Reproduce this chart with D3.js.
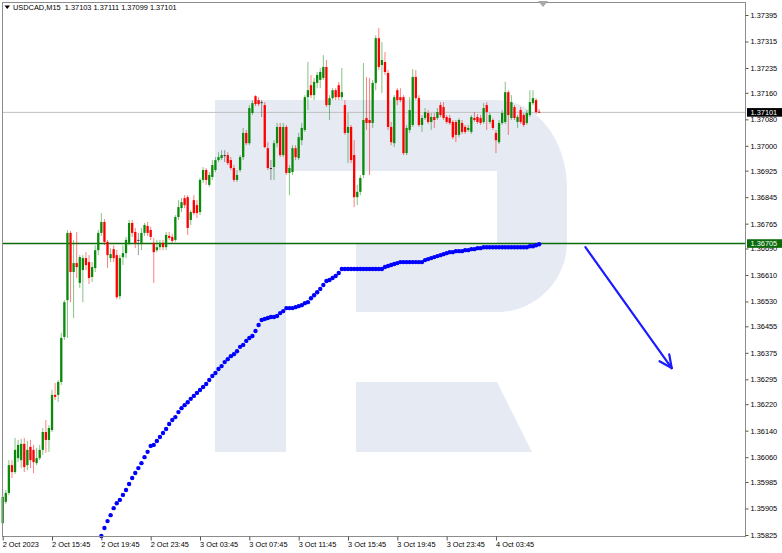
<!DOCTYPE html>
<html><head><meta charset="utf-8">
<script src="https://cdn.jsdelivr.net/npm/d3@7"></script>
<style>html,body{margin:0;padding:0;background:#fff;}svg{display:block;font-family:"Liberation Sans",Arial,sans-serif;}</style>
</head><body><svg id="c" width="782" height="553"></svg>
<script>
// ---------- data ----------
const headerText = "USDCAD,M15  1.37103 1.37111 1.37099 1.37101";
const timeTickBars = [0,16,32,48,64,80,96,112,128,144,160];
const timeLabels = ["2 Oct 2023","2 Oct 15:45","2 Oct 19:45","2 Oct 23:45","3 Oct 03:45","3 Oct 07:45","3 Oct 11:45","3 Oct 15:45","3 Oct 19:45","3 Oct 23:45","4 Oct 03:45"];
const priceTicks = [1.37395,1.37315,1.37235,1.37160,1.37080,1.37000,1.36925,1.36845,1.36765,1.36690,1.36610,1.36530,1.36455,1.36375,1.36295,1.36220,1.36140,1.36060,1.35985,1.35905,1.35825];
const openP = [1.35861,1.35925,1.35952,1.36036,1.36015,1.36057,1.36051,1.36100,1.36036,1.36091,1.36082,1.36042,1.36057,1.36082,1.36136,1.36112,1.36142,1.36248,1.36248,1.36287,
1.36423,1.36534,1.36737,1.36619,1.36646,1.36586,1.36625,1.36661,1.36649,1.36604,1.36631,1.36685,1.36737,1.36770,1.36710,1.36661,1.36688,1.36670,1.36546,1.36664,
1.36676,1.36707,1.36767,1.36740,1.36716,1.36707,1.36737,1.36758,1.36746,1.36707,1.36685,1.36694,1.36707,1.36694,1.36728,1.36725,1.36716,1.36785,1.36812,1.36842,
1.36845,1.36776,1.36836,1.36821,1.36800,1.36897,1.36927,1.36882,1.36906,1.36927,1.36957,1.36963,1.36972,1.36972,1.36957,1.36933,1.36897,1.36927,1.36966,1.37039,
1.37008,1.37099,1.37150,1.37138,1.37132,1.37123,1.36993,1.36933,1.36936,1.37008,1.37057,1.36972,1.37057,1.36918,1.36921,1.36993,1.36963,1.37017,1.37048,1.37147,
1.37183,1.37153,1.37190,1.37199,1.37205,1.37238,1.37123,1.37144,1.37168,1.37183,1.37147,1.37123,1.37039,1.37057,1.36972,1.36845,1.36861,1.36912,1.37084,1.37078,
1.37069,1.37190,1.37325,1.37244,1.37253,1.37220,1.37057,1.37008,1.37168,1.37147,1.37147,1.36978,1.37048,1.37063,1.37208,1.37144,1.37063,1.37084,1.37099,1.37072,
1.37087,1.37084,1.37123,1.37117,1.37087,1.37084,1.37072,1.37072,1.37033,1.37069,1.37057,1.37048,1.37042,1.37084,1.37087,1.37084,1.37072,1.37123,1.37072,1.37078,
1.37039,1.37011,1.37069,1.37072,1.37162,1.37084,1.37117,1.37072,1.37108,1.37093,1.37069,1.37093,1.37129,1.37138,1.37103];
const highP = [1.35961,1.35961,1.36051,1.36051,1.36118,1.36112,1.36115,1.36118,1.36109,1.36112,1.36097,1.36088,1.36097,1.36148,1.36172,1.36157,1.36263,1.36284,1.36293,1.36435,
1.36534,1.36746,1.36743,1.36716,1.36740,1.36670,1.36670,1.36679,1.36670,1.36649,1.36700,1.36746,1.36797,1.36779,1.36716,1.36691,1.36700,1.36685,1.36670,1.36700,
1.36725,1.36776,1.36776,1.36752,1.36737,1.36752,1.36767,1.36770,1.36755,1.36722,1.36716,1.36716,1.36716,1.36740,1.36740,1.36734,1.36791,1.36836,1.36842,1.36851,
1.36851,1.36806,1.36851,1.36836,1.36903,1.36936,1.36933,1.36921,1.36957,1.36966,1.36981,1.36987,1.36987,1.36981,1.36966,1.36942,1.36927,1.36972,1.37054,1.37048,
1.37123,1.37138,1.37153,1.37147,1.37138,1.37132,1.37011,1.36957,1.37017,1.37069,1.37069,1.37069,1.37063,1.36942,1.37002,1.37002,1.37039,1.37069,1.37153,1.37253,
1.37214,1.37205,1.37223,1.37235,1.37274,1.37259,1.37153,1.37174,1.37174,1.37193,1.37235,1.37138,1.37099,1.37063,1.37017,1.36882,1.36912,1.37250,1.37208,1.37205,
1.37199,1.37334,1.37356,1.37313,1.37283,1.37229,1.37072,1.37153,1.37174,1.37174,1.37153,1.37063,1.37147,1.37232,1.37229,1.37153,1.37093,1.37114,1.37108,1.37099,
1.37099,1.37114,1.37132,1.37132,1.37093,1.37093,1.37078,1.37078,1.37084,1.37078,1.37063,1.37063,1.37093,1.37102,1.37096,1.37093,1.37129,1.37132,1.37099,1.37084,
1.37048,1.37078,1.37108,1.37193,1.37168,1.37153,1.37123,1.37093,1.37117,1.37099,1.37108,1.37168,1.37168,1.37144,1.37111];
const lowP = [1.35855,1.35919,1.35946,1.35997,1.36009,1.36045,1.36027,1.36015,1.36021,1.36027,1.36012,1.36036,1.36051,1.36067,1.36073,1.36076,1.36136,1.36233,1.36227,1.36278,
1.36414,1.36420,1.36528,1.36480,1.36601,1.36571,1.36528,1.36625,1.36583,1.36589,1.36619,1.36670,1.36728,1.36700,1.36631,1.36649,1.36649,1.36537,1.36537,1.36640,
1.36661,1.36700,1.36725,1.36691,1.36670,1.36685,1.36728,1.36728,1.36716,1.36586,1.36679,1.36685,1.36685,1.36685,1.36716,1.36707,1.36710,1.36776,1.36800,1.36812,
1.36731,1.36761,1.36791,1.36782,1.36791,1.36888,1.36882,1.36876,1.36897,1.36921,1.36951,1.36957,1.36951,1.36942,1.36927,1.36891,1.36891,1.36921,1.36957,1.37002,
1.37002,1.37093,1.37120,1.37120,1.37087,1.36993,1.36927,1.36897,1.36897,1.36996,1.36966,1.36966,1.36912,1.36851,1.36912,1.36957,1.36957,1.37002,1.37042,1.37108,
1.37144,1.37138,1.37174,1.37174,1.37199,1.37117,1.37078,1.37138,1.37138,1.37138,1.37138,1.37033,1.36948,1.36948,1.36815,1.36821,1.36851,1.36903,1.37048,1.36912,
1.37054,1.37168,1.37229,1.37159,1.37214,1.37048,1.37002,1.36996,1.37123,1.37132,1.36972,1.36972,1.37039,1.37057,1.37138,1.37057,1.37042,1.37078,1.37066,1.37048,
1.37054,1.37078,1.37087,1.37078,1.37066,1.37063,1.37020,1.37011,1.37026,1.37036,1.37036,1.37042,1.37036,1.37072,1.37066,1.37063,1.37066,1.37048,1.37066,1.37048,
1.36978,1.37005,1.37063,1.37066,1.37033,1.37078,1.37078,1.37054,1.37066,1.37057,1.37063,1.37087,1.37123,1.37096,1.37099];
const closeP = [1.35940,1.35952,1.36036,1.36015,1.36082,1.36097,1.36100,1.36030,1.36082,1.36051,1.36045,1.36057,1.36082,1.36136,1.36112,1.36148,1.36248,1.36242,1.36287,1.36420,
1.36528,1.36737,1.36619,1.36646,1.36634,1.36664,1.36661,1.36640,1.36601,1.36634,1.36685,1.36737,1.36770,1.36710,1.36670,1.36673,1.36661,1.36543,1.36661,1.36676,
1.36716,1.36767,1.36737,1.36707,1.36716,1.36737,1.36761,1.36737,1.36725,1.36679,1.36694,1.36707,1.36694,1.36731,1.36722,1.36713,1.36785,1.36815,1.36830,1.36821,
1.36752,1.36800,1.36797,1.36797,1.36897,1.36927,1.36897,1.36912,1.36942,1.36957,1.36966,1.36972,1.36972,1.36948,1.36933,1.36897,1.36912,1.36966,1.37039,1.37008,
1.37114,1.37129,1.37126,1.37126,1.37132,1.36996,1.36933,1.36933,1.37008,1.37057,1.36972,1.37057,1.36918,1.36933,1.36993,1.36966,1.37026,1.37054,1.37147,1.37168,
1.37153,1.37193,1.37214,1.37223,1.37238,1.37123,1.37144,1.37168,1.37147,1.37147,1.37162,1.37039,1.37057,1.36957,1.36845,1.36861,1.36903,1.37078,1.37069,1.37069,
1.37190,1.37325,1.37238,1.37259,1.37223,1.37057,1.37011,1.37147,1.37138,1.37138,1.36978,1.37054,1.37108,1.37208,1.37144,1.37063,1.37084,1.37102,1.37072,1.37087,
1.37078,1.37102,1.37093,1.37084,1.37072,1.37069,1.37026,1.37033,1.37078,1.37042,1.37042,1.37054,1.37087,1.37078,1.37072,1.37069,1.37114,1.37102,1.37093,1.37054,
1.37017,1.37069,1.37099,1.37162,1.37093,1.37132,1.37084,1.37087,1.37072,1.37063,1.37099,1.37132,1.37144,1.37102,1.37101];
// blue dotted indicator, one value per bar starting at bar 32
const dotStartBar = 32;
const dotValues = [1.35822,1.35846,1.35867,1.35885,1.35906,1.35921,1.35931,1.35946,1.35961,1.35979,
1.35997,1.36012,1.36027,1.36042,1.36060,1.36076,1.36094,1.36097,1.36109,1.36121,
1.36133,1.36145,1.36160,1.36172,1.36181,1.36196,1.36208,1.36217,1.36226,1.36236,
1.36245,1.36254,1.36263,1.36272,1.36281,1.36293,1.36305,1.36314,1.36326,1.36335,
1.36347,1.36356,1.36365,1.36371,1.36380,1.36393,1.36399,1.36411,1.36420,1.36426,
1.36441,1.36459,1.36474,1.36477,1.36480,1.36483,1.36483,1.36486,1.36495,1.36501,
1.36510,1.36510,1.36510,1.36513,1.36516,1.36519,1.36525,1.36528,1.36540,1.36549,
1.36558,1.36568,1.36580,1.36592,1.36595,1.36601,1.36607,1.36616,1.36628,1.36628,
1.36628,1.36628,1.36628,1.36628,1.36628,1.36628,1.36628,1.36628,1.36628,1.36628,
1.36628,1.36628,1.36634,1.36637,1.36640,1.36643,1.36646,1.36649,1.36649,1.36649,
1.36649,1.36649,1.36649,1.36649,1.36649,1.36655,1.36658,1.36661,1.36664,1.36667,
1.36670,1.36673,1.36676,1.36679,1.36679,1.36682,1.36682,1.36682,1.36685,1.36685,
1.36688,1.36688,1.36691,1.36691,1.36694,1.36694,1.36694,1.36694,1.36694,1.36694,
1.36694,1.36694,1.36694,1.36694,1.36694,1.36694,1.36694,1.36694,1.36694,1.36697,
1.36697,1.36700,1.36703];
const bidPrice = 1.37101;
const levelPrice = 1.36705;
const arrowBars = [189, 217];
const arrowPrices = [1.36694, 1.36329];

// ---------- layout ----------
const svg = d3.select("#c");
const L = 2.5, R = 745.5, T = 2.5, B = 536.5;
const x = d3.scaleLinear().domain([0, 241]).range([2.7, 745.7]);
const y = d3.scaleLinear().domain([1.35825, 1.37395]).range([535, 15]);
const FS = 7.4;

// watermark
const wm = svg.append("g").attr("fill", "#e5eaf3");
wm.append("path").attr("d", "M215,100 H497 A70,88 0 0 1 567,188 V242 A70,70 0 0 1 497,312 H356 V244 H497 V171 H286 V452 H215 Z");
wm.append("path").attr("d", "M356,382 H497 L532,452 H356 Z");

// horizontal lines
svg.append("line").attr("x1", L).attr("x2", R).attr("y1", y(bidPrice)).attr("y2", y(bidPrice))
  .attr("stroke", "#c0c0c0").attr("stroke-width", 1);
svg.append("line").attr("x1", L).attr("x2", R).attr("y1", y(levelPrice)).attr("y2", y(levelPrice))
  .attr("stroke", "#0b6b0b").attr("stroke-width", 1.6);

// candles
const candles = openP.map((o, i) => ({i, o, h: highP[i], l: lowP[i], c: closeP[i]}));
const col = d => d.c > d.o ? "#0a8a0a" : (d.c < d.o ? "#ff0000" : "#333333");
const cg = svg.append("g");
cg.selectAll("line.w").data(candles).join("line").attr("class", "w")
  .attr("x1", d => x(d.i)).attr("x2", d => x(d.i))
  .attr("y1", d => y(d.h)).attr("y2", d => y(d.l))
  .attr("stroke", col).attr("stroke-opacity", 0.5).attr("stroke-width", 1);
cg.selectAll("rect.b").data(candles).join("rect").attr("class", "b")
  .attr("x", d => x(d.i) - 1.15).attr("width", 2.3)
  .attr("y", d => Math.min(y(d.o), y(d.c)))
  .attr("height", d => Math.max(1, Math.abs(y(d.o) - y(d.c))))
  .attr("fill", col);

// dotted indicator
svg.append("g").selectAll("circle").data(dotValues).join("circle")
  .attr("cx", (d, k) => x(dotStartBar + k)).attr("cy", d => y(d))
  .attr("r", 2.2).attr("fill", "#0000ff");

// arrow
const ax1 = x(arrowBars[0]), ay1 = y(arrowPrices[0]), ax2 = x(arrowBars[1]), ay2 = y(arrowPrices[1]);
const ang = Math.atan2(ay2 - ay1, ax2 - ax1);
const ag = svg.append("g").attr("stroke", "#1b1bff").attr("stroke-width", 2.2).attr("stroke-linecap", "round").attr("fill", "none");
ag.append("line").attr("x1", ax1).attr("y1", ay1).attr("x2", ax2).attr("y2", ay2);
[0.44, -0.44].forEach(da => {
  const a = ang + Math.PI + da;
  ag.append("line").attr("x1", ax2).attr("y1", ay2).attr("x2", ax2 + 14 * Math.cos(a)).attr("y2", ay2 + 14 * Math.sin(a));
});

// frame
svg.append("rect").attr("x", L).attr("y", T).attr("width", R - L).attr("height", B - T)
  .attr("fill", "none").attr("stroke", "#8c8c8c").attr("stroke-width", 1);
// chart-shift marker
svg.append("path").attr("d", "M538,1 L548,1 L543,7 Z").attr("fill", "#a8a8a8");

// header
svg.append("path").attr("d", "M4.5,5.5 L10,5.5 L7.25,9 Z").attr("fill", "#000");
svg.append("text").attr("x", 13).attr("y", 10).attr("font-size", FS).attr("fill", "#000")
  .style("white-space", "pre").text(headerText);

// bottom axis
const xAxis = d3.axisBottom(x).tickValues(timeTickBars).tickFormat((d, k) => timeLabels[k])
  .tickSize(4).tickSizeOuter(0);
const gx = svg.append("g").attr("transform", `translate(0,${B})`).call(xAxis);
gx.select(".domain").remove();
gx.selectAll(".tick line").attr("stroke", "#555");
gx.selectAll(".tick text").attr("font-size", FS).attr("font-family", "Liberation Sans, Arial, sans-serif")
  .attr("fill", "#000").attr("text-anchor", "start").attr("x", -0.5).attr("y", 5.5).attr("dy", "0.71em");

// right axis
const yAxis = d3.axisRight(y).tickValues(priceTicks).tickFormat(d3.format(".5f")).tickSize(3).tickSizeOuter(0);
const gy = svg.append("g").attr("transform", `translate(${R},0)`).call(yAxis);
gy.select(".domain").remove();
gy.selectAll(".tick line").attr("stroke", "#555");
gy.selectAll(".tick text").attr("font-size", FS).attr("font-family", "Liberation Sans, Arial, sans-serif")
  .attr("fill", "#000").attr("x", 5);

// price tags
function tag(v, bg) {
  const yy = y(v);
  svg.append("rect").attr("x", R + 1.5).attr("y", yy - 4.3).attr("width", 782 - R - 1.5).attr("height", 8.6).attr("fill", bg);
  svg.append("text").attr("x", R + 5).attr("y", yy).attr("dy", "0.34em").attr("font-size", FS)
    .attr("fill", "#fff").text(d3.format(".5f")(v));
}
tag(bidPrice, "#000000");
tag(levelPrice, "#0b6b0b");
</script></body></html>
